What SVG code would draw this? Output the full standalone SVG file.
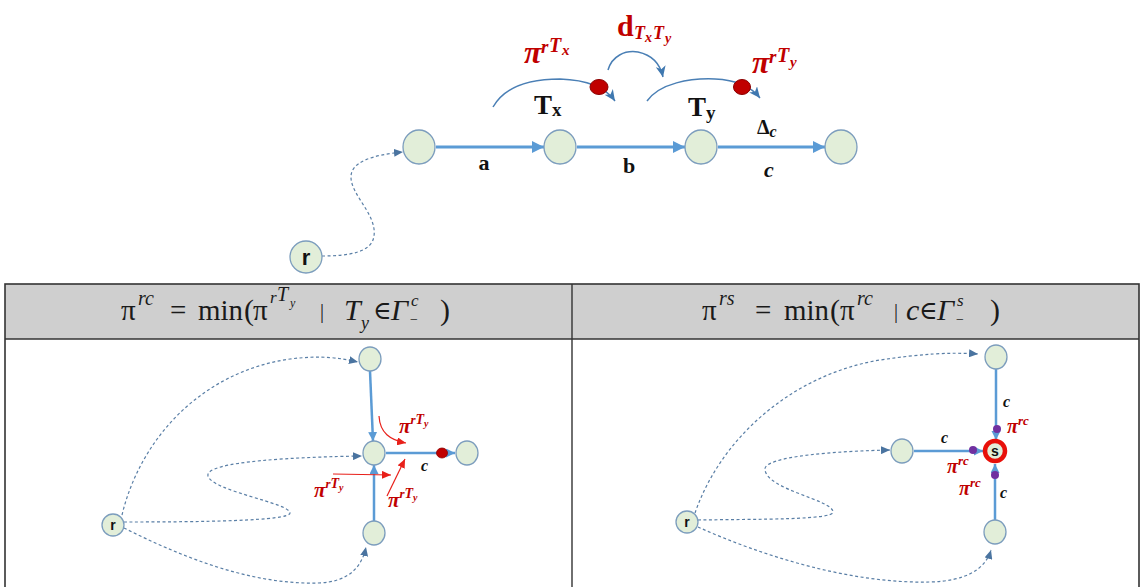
<svg xmlns="http://www.w3.org/2000/svg" width="1141" height="587" viewBox="0 0 1141 587">
<defs>
<style>
.node{fill:#e2eed9;stroke:#7c9dbd;stroke-width:1.3}
.edge{fill:none;stroke:#5b9bd5;stroke-width:3}
.edge2{fill:none;stroke:#5b9bd5;stroke-width:2.5}
.dash{fill:none;stroke:#5a7fa6;stroke-width:1.2;stroke-dasharray:3 2.5}
.thin{fill:none;stroke:#4a7fb5;stroke-width:1.5}
.red{fill:none;stroke:#e8201a;stroke-width:1.2}
.lbl{font-family:"Liberation Serif","DejaVu Serif",serif;font-weight:bold;fill:#111}
.nl{font-family:"Liberation Sans","DejaVu Sans",sans-serif;font-weight:bold;fill:#111}
.rl{font-family:"Liberation Serif","DejaVu Serif",serif;font-weight:bold;font-style:italic;fill:#c00000}
.mf{font-family:"Liberation Serif","DejaVu Serif",serif;fill:#1a1a1a}
.it{font-style:italic}
</style>
<marker id="ab" markerUnits="userSpaceOnUse" markerWidth="14" markerHeight="12" refX="12" refY="6" orient="auto"><path d="M0,0 L12,6 L0,12 Z" fill="#5b9bd5"/></marker>
<marker id="abs" markerUnits="userSpaceOnUse" markerWidth="10" markerHeight="10" refX="9" refY="4.5" orient="auto"><path d="M0,0 L9,4.5 L0,9 Z" fill="#5b9bd5"/></marker>
<marker id="ad" markerUnits="userSpaceOnUse" markerWidth="10" markerHeight="8" refX="9" refY="4" orient="auto"><path d="M0,0 L9,4 L0,8 Z" fill="#4a74a0"/></marker>
<marker id="at" markerUnits="userSpaceOnUse" markerWidth="12" markerHeight="10" refX="11" refY="5" orient="auto"><path d="M0,0 L11,5 L0,10 L3,5 Z" fill="#3f78b0"/></marker>
<marker id="ar" markerUnits="userSpaceOnUse" markerWidth="10" markerHeight="8" refX="9" refY="4" orient="auto"><path d="M0,0 L9,4 L0,8 Z" fill="#e8201a"/></marker>
</defs>

<g id="table">
<rect x="5" y="284" width="1134" height="55" fill="#cfcfcf"/>
<rect x="5" y="284" width="1134" height="320" fill="none" stroke="#333" stroke-width="1.6"/>
<line x1="5" y1="339" x2="1139" y2="339" stroke="#333" stroke-width="1.6"/>
<line x1="572" y1="284" x2="572" y2="600" stroke="#333" stroke-width="1.4"/>
</g>

<g id="formula-left" class="mf">
<text x="121" y="320" font-size="29">π</text>
<text x="138" y="305" font-size="20" class="it">rc</text>
<text x="170" y="320" font-size="29">=</text>
<text x="198" y="320" font-size="30" textLength="45" lengthAdjust="spacingAndGlyphs">min</text>
<text x="244" y="320" font-size="30">(</text>
<text x="253" y="320" font-size="29">π</text>
<text x="270" y="303" font-size="17" class="it">r</text>
<text x="277" y="301" font-size="20" class="it">T</text>
<text x="290" y="307" font-size="12" class="it">y</text>
<text x="320" y="318" font-size="20">|</text>
<text x="344" y="320" font-size="30" class="it">T</text>
<text x="361" y="329" font-size="18" class="it">y</text>
<text x="373" y="319" font-size="25" font-family="DejaVu Serif">∈</text>
<text x="391" y="320" font-size="30" class="it">Γ</text>
<text x="411" y="306" font-size="17" class="it">c</text>
<text x="410" y="324" font-size="14">−</text>
<text x="440" y="320" font-size="30">)</text>
</g>

<g id="formula-right" class="mf">
<text x="702" y="320" font-size="29">π</text>
<text x="719" y="305" font-size="20" class="it">rs</text>
<text x="755" y="320" font-size="29">=</text>
<text x="784" y="320" font-size="30" textLength="45" lengthAdjust="spacingAndGlyphs">min</text>
<text x="830" y="320" font-size="30">(</text>
<text x="840" y="320" font-size="29">π</text>
<text x="857" y="305" font-size="20" class="it">rc</text>
<text x="894" y="318" font-size="20">|</text>
<text x="906" y="320" font-size="30" class="it">c</text>
<text x="919" y="319" font-size="25" font-family="DejaVu Serif">∈</text>
<text x="937" y="320" font-size="30" class="it">Γ</text>
<text x="957" y="306" font-size="17" class="it">s</text>
<text x="956" y="324" font-size="14">−</text>
<text x="990" y="320" font-size="30">)</text>
</g>

<g id="connectors">
<line x1="436" y1="147" x2="544" y2="147" class="edge" marker-end="url(#ab)"/>
<line x1="577" y1="147" x2="685" y2="147" class="edge" marker-end="url(#ab)"/>
<line x1="718" y1="147" x2="825" y2="147" class="edge" marker-end="url(#ab)"/>
<path d="M322,256 C350,256 372,252 374,236 C377,215 352,196 351,178 C350,162 372,155 403,152" class="dash" marker-end="url(#ad)"/>
<path d="M493,107 C505,86 530,79 560,79 C590,80 606,88 615,101" class="thin" marker-end="url(#at)"/>
<path d="M647,101 C660,83 690,78 715,79 C740,80 752,88 760,98" class="thin" marker-end="url(#at)"/>
<path d="M608,70 C612,56 625,50 638,52 C652,55 660,63 663,77" class="thin" marker-end="url(#at)"/>

<line x1="370" y1="371" x2="373" y2="441" class="edge2" marker-end="url(#abs)"/>
<line x1="374" y1="522" x2="374" y2="465" class="edge2" marker-end="url(#abs)"/>
<line x1="386" y1="453" x2="455" y2="453" class="edge2" marker-end="url(#abs)"/>
<path d="M122,515 C140,440 200,372 290,359 C322,355 340,358 358,362" class="dash" marker-end="url(#ad)"/>
<path d="M124,522 C200,522 290,521 290,513 C290,503 212,491 208,476 C204,461 300,457 362,456" class="dash" marker-end="url(#ad)"/>
<path d="M124,528 C180,556 250,585 318,583 C350,582 362,566 366,547" class="dash" marker-end="url(#ad)"/>
<path d="M379,416 C380,433 390,440 406,443" class="red" marker-end="url(#ar)"/>
<line x1="333" y1="474" x2="391" y2="475" class="red" marker-end="url(#ar)"/>
<line x1="387" y1="496" x2="405" y2="459" class="red" marker-end="url(#ar)"/>

<line x1="996" y1="369" x2="996" y2="440" class="edge2" marker-end="url(#abs)"/>
<line x1="914" y1="451" x2="983" y2="451" class="edge2" marker-end="url(#abs)"/>
<line x1="995" y1="520" x2="995" y2="464" class="edge2" marker-end="url(#abs)"/>
<path d="M695,513 C720,440 790,375 880,360 C920,354 950,352 978,354" class="dash" marker-end="url(#ad)"/>
<path d="M698,520 C760,519 833,520 833,512 C833,500 768,490 765,470 C762,456 840,451 890,450" class="dash" marker-end="url(#ad)"/>
<path d="M698,527 C760,555 850,584 930,582 C965,581 985,570 991,550" class="dash" marker-end="url(#ad)"/>
</g>

<g id="n-r"><ellipse cx="306" cy="257" rx="16" ry="16" class="node"/><text x="306" y="265" font-size="22" class="nl" text-anchor="middle">r</text></g>
<g id="n-1"><ellipse cx="419" cy="147" rx="16" ry="17" class="node"/></g>
<g id="n-tx"><ellipse cx="560" cy="147" rx="16" ry="17" class="node"/></g>
<g id="n-ty"><ellipse cx="701" cy="147" rx="16" ry="17" class="node"/></g>
<g id="n-4"><ellipse cx="841" cy="147" rx="16" ry="17" class="node"/></g>

<g id="top-labels">
<text x="484" y="170" font-size="22" class="lbl" text-anchor="middle">a</text>
<text x="629" y="173" font-size="22" class="lbl" text-anchor="middle">b</text>
<text x="769" y="177" font-size="22" class="lbl it" text-anchor="middle">c</text>
<text x="534" y="114" font-size="27" class="lbl">T<tspan font-size="19" dy="2">x</tspan></text>
<text x="688" y="116" font-size="27" class="lbl">T<tspan font-size="19" dy="3">y</tspan></text>
<text x="757" y="134" font-size="20" class="lbl">Δ<tspan font-size="16" dy="3" font-style="italic">c</tspan></text>
</g>

<g id="dot-tx"><ellipse cx="599" cy="87" rx="9" ry="7.5" fill="#c00000" stroke="#8b0000" stroke-width="1"/></g>
<g id="dot-ty"><ellipse cx="742" cy="87" rx="8.5" ry="7.5" fill="#c00000" stroke="#8b0000" stroke-width="1"/></g>

<g id="lbl-pi-tx" class="rl">
<text x="524" y="63" font-size="32">π</text>
<text x="541" y="53" font-size="19">r</text>
<text x="549" y="52" font-size="20">T</text>
<text x="562" y="55" font-size="15">x</text>
</g>
<g id="lbl-d" class="rl">
<text x="617" y="36" font-size="30" font-style="normal">d</text>
<text x="634" y="39" font-size="18">T</text>
<text x="645" y="42" font-size="14">x</text>
<text x="653" y="39" font-size="18">T</text>
<text x="665" y="43" font-size="14">y</text>
</g>
<g id="lbl-pi-ty" class="rl">
<text x="752" y="73" font-size="32">π</text>
<text x="769" y="63" font-size="19">r</text>
<text x="777" y="62" font-size="20">T</text>
<text x="790" y="67" font-size="15">y</text>
</g>

<g id="bl-r"><ellipse cx="113" cy="525" rx="11" ry="11" class="node"/><text x="113" y="530" font-size="14" class="nl" text-anchor="middle">r</text></g>
<g id="bl-top"><ellipse cx="370" cy="359" rx="11" ry="12" class="node"/></g>
<g id="bl-mid"><ellipse cx="374" cy="453" rx="11" ry="12" class="node"/></g>
<g id="bl-right"><ellipse cx="467" cy="453" rx="11" ry="12" class="node"/></g>
<g id="bl-bot"><ellipse cx="374" cy="533" rx="11" ry="12" class="node"/></g>
<g id="bl-dot"><ellipse cx="442" cy="453" rx="5.5" ry="5" fill="#c00000" stroke="#8b0000" stroke-width="0.8"/></g>
<text x="421" y="471" font-size="16" class="lbl it">c</text>
<g class="rl">
<text x="399" y="433" font-size="21">π<tspan font-size="13" dy="-9">r</tspan><tspan font-size="14">T</tspan><tspan font-size="10" dy="3">y</tspan></text>
<text x="314" y="497" font-size="21">π<tspan font-size="13" dy="-9">r</tspan><tspan font-size="14">T</tspan><tspan font-size="10" dy="3">y</tspan></text>
<text x="388" y="507" font-size="21">π<tspan font-size="13" dy="-9">r</tspan><tspan font-size="14">T</tspan><tspan font-size="10" dy="3">y</tspan></text>
</g>

<g id="br-r"><ellipse cx="687" cy="522" rx="11" ry="11" class="node"/><text x="687" y="527" font-size="14" class="nl" text-anchor="middle">r</text></g>
<g id="br-top"><ellipse cx="996" cy="357" rx="11" ry="12" class="node"/></g>
<g id="br-left"><ellipse cx="902" cy="451" rx="11" ry="12" class="node"/></g>
<g id="br-bot"><ellipse cx="995" cy="532" rx="11" ry="12" class="node"/></g>
<g id="br-s"><circle cx="995" cy="451" r="10" fill="#e2eed9" stroke="#e8100a" stroke-width="4.5"/><text x="995" y="456" font-size="14" class="nl" text-anchor="middle">s</text></g>
<g id="br-dots" fill="#7030a0">
<circle cx="997" cy="429" r="4"/>
<circle cx="973" cy="450" r="4"/>
<circle cx="995" cy="475" r="4"/>
</g>
<g class="lbl it" font-size="16">
<text x="1003" y="407">c</text>
<text x="941" y="443">c</text>
<text x="1000" y="498">c</text>
</g>
<g class="rl">
<text x="1007" y="433" font-size="20">π<tspan font-size="13" dy="-8">rc</tspan></text>
<text x="947" y="473" font-size="20">π<tspan font-size="13" dy="-8">rc</tspan></text>
<text x="959" y="495" font-size="20">π<tspan font-size="13" dy="-8">rc</tspan></text>
</g>
</svg>
